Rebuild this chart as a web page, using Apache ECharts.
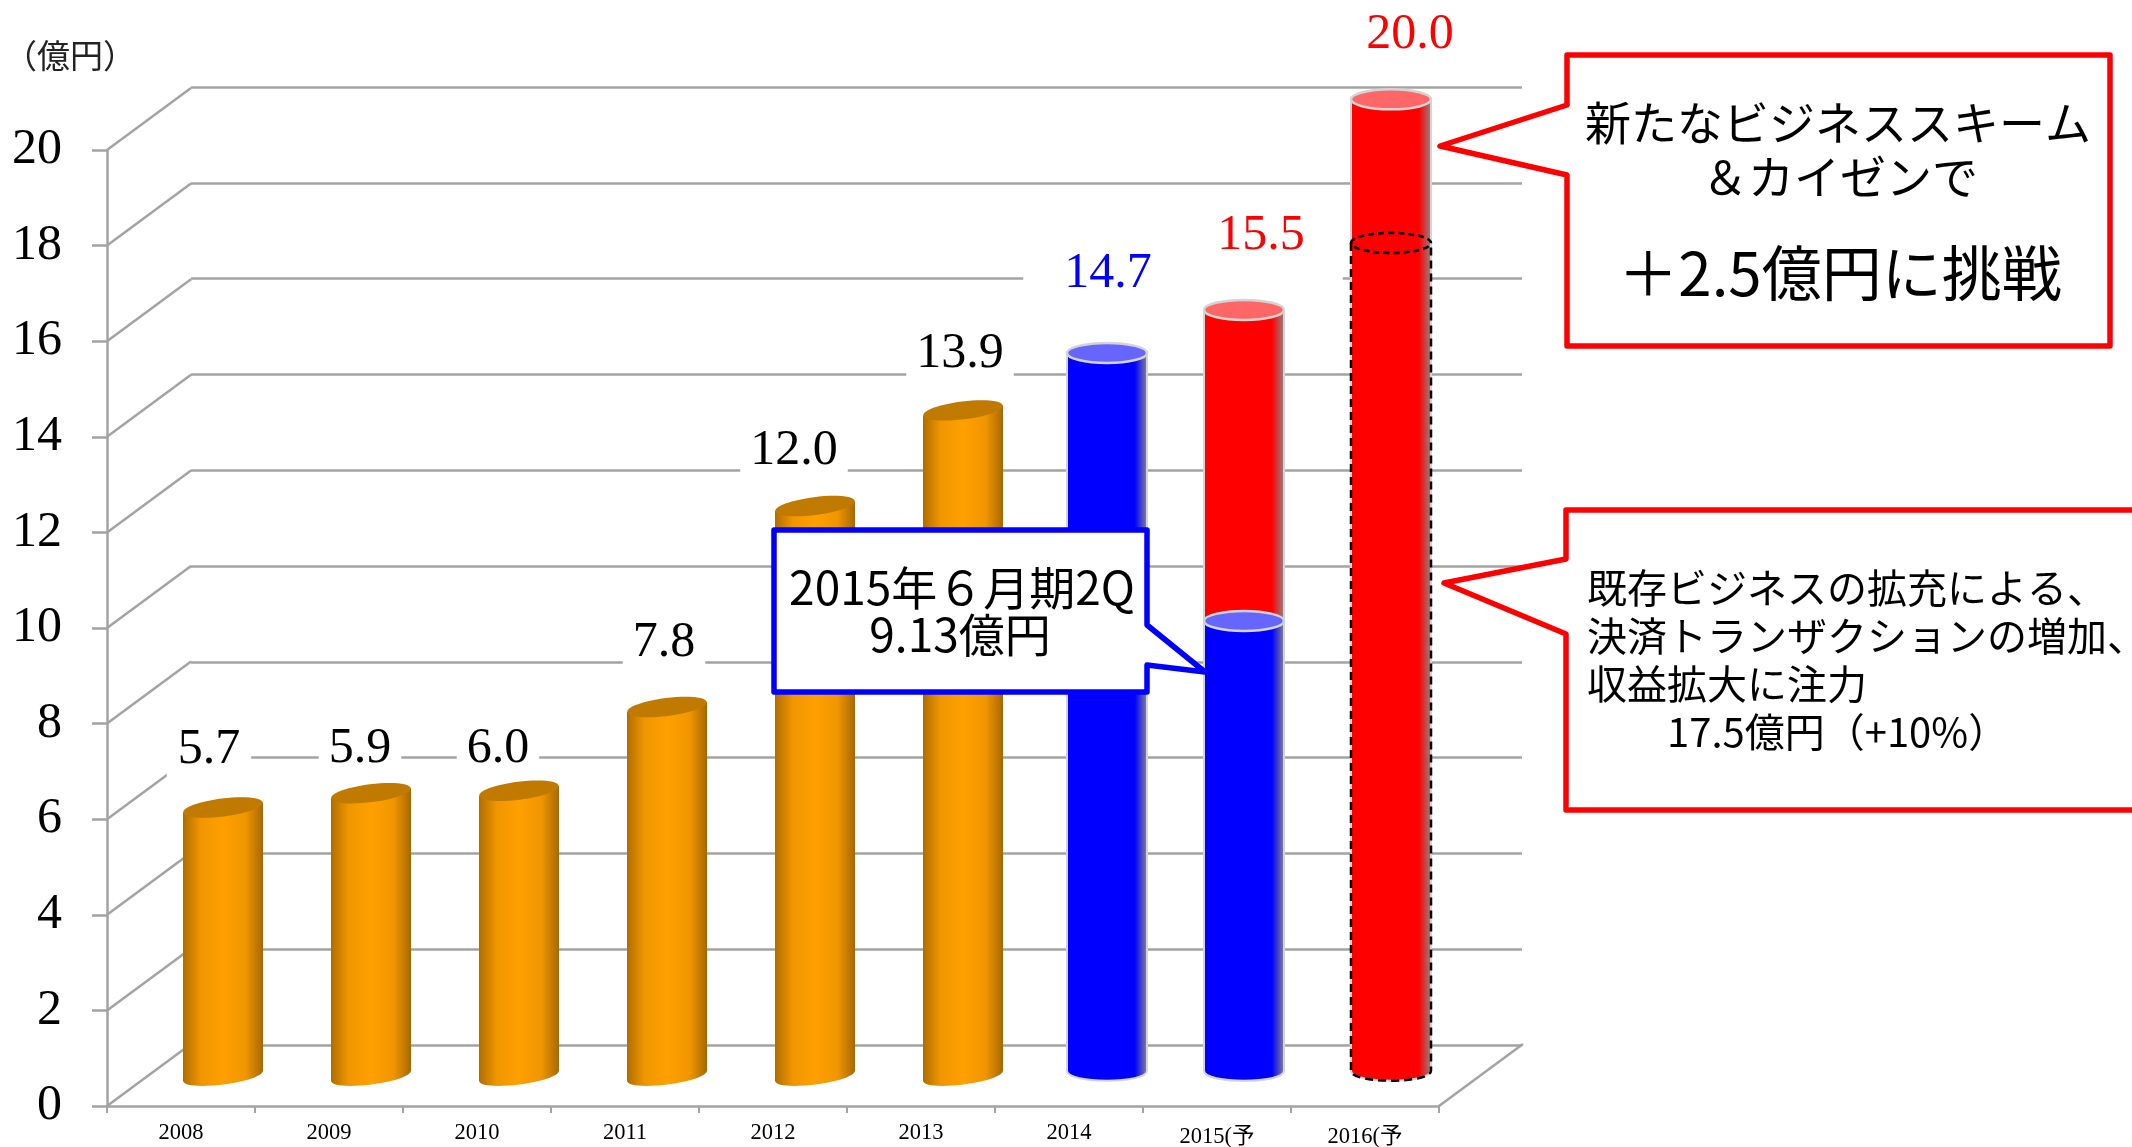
<!DOCTYPE html>
<html><head><meta charset="utf-8">
<style>html,body{margin:0;padding:0;background:#fff;overflow:hidden}#c{width:2132px;height:1147px}</style>
<script src="https://cdn.jsdelivr.net/npm/echarts@6/dist/echarts.min.js"></script>
</head><body><div id="c"></div>
<script>
const categories = ['2008','2009','2010','2011','2012','2013','2014','2015(予','2016(予'];
const valueLabels = ['5.7','5.9','6.0','7.8','12.0','13.9','14.7','15.5','20.0'];
const barHeights = [5.6,5.9,5.95,7.7,11.9,13.9,15.1,16.0,20.4];
const barBases = [0,0,0,0,0,0,0.1,0.1,0.1];
const kinds = ['past','past','past','past','past','past','actual','plan','plan'];
const halfYearActual2015 = 9.5;
const existingBusiness2016 = 17.4;
const yTicks = [0,2,4,6,8,10,12,14,16,18,20];

const SERIF = '"Liberation Serif","Noto Sans CJK JP",serif';
const SANS = '"Noto Sans CJK JP","Noto Sans",sans-serif';
const GRID_COLOR = '#a3a3a3';
const KIND_COLOR = {past:'#000000',actual:'#0000ff',plan:'#ff0000'};
const DEPTH_X = 84, DEPTH_Y = -62;
const R = 40;

function bodyGrad(kind){
  if(kind==='past') return {type:'linear',x:0,y:0,x2:1,y2:0,colorStops:[
    {offset:0,color:'#b06e00'},{offset:.22,color:'#f09600'},{offset:.5,color:'#ffa000'},
    {offset:.78,color:'#f09600'},{offset:1,color:'#a86800'}]};
  const c = kind==='actual' ? '#0000ff' : '#ff0000';
  return {type:'linear',x:0,y:0,x2:1,y2:0,colorStops:[
    {offset:0,color:c},{offset:.84,color:c},{offset:1,color:'#8c8c8c'}]};
}
function cyl(cx,top,bot,tilt,ry,kind,capFill,edge){
  const l=cx-R,r=cx+R,k=ry*1.33;
  const d=`M${l} ${top+tilt} L${l} ${bot+tilt} C${l} ${bot+tilt+k} ${r} ${bot-tilt+k} ${r} ${bot-tilt} L${r} ${top-tilt} Z`;
  const st={fill:bodyGrad(kind)};
  if(edge){st.stroke=edge;st.lineWidth=2;}
  return [
    {type:'path',shape:{pathData:d},style:st},
    {type:'ellipse',x:cx,y:top,rotation:Math.atan2(2*tilt,2*R),shape:{cx:0,cy:0,rx:R,ry:ry},
      style:{fill:capFill,stroke:edge||null,lineWidth:edge?2.5:0}}
  ];
}
const overlayShift = {6:-4,7:-15,8:-16};
const labelNudge = [[-14,-58],[-11,-44],[-21,-42],[-3,-64],[-21,-55],[-3,-57],[-3,-79],[2,-74],[3,-64]];
const labelPad = [[3,11,3,11],[3,10,3,10],[3,10,3,10],[3,10,3,10],[3,10,3,10],[3,10,3,10],[3,41,3,41],[3,38,35,38],[3,4,3,4]];

function renderWall(params,api){
  const cs=params.coordSys, v=api.value(1), y=api.coord([0,v])[1];
  const ls={stroke:GRID_COLOR,lineWidth:2.5};
  const kids=[{type:'line',shape:{x1:cs.x,y1:y,x2:cs.x+DEPTH_X,y2:y+DEPTH_Y},style:ls}];
  if(v===0) kids.push({type:'line',shape:{x1:cs.x+cs.width,y1:y,x2:cs.x+cs.width+DEPTH_X,y2:y+DEPTH_Y},style:ls});
  return {type:'group',children:kids};
}
function renderBar(params,api){
  const i=api.value(0), h=api.value(1), b=api.value(2), kind=kinds[i];
  const p=api.coord([i,h]), p0=api.coord([i,b]);
  const cx=p[0]+(overlayShift[i]||0);
  let kids;
  if(kind==='past'){
    kids=cyl(cx,p[1],p0[1],5,9,kind,'#c07a00',null);
  }else if(i===7){
    const m=api.coord([i,halfYearActual2015])[1];
    kids=cyl(cx,p[1],p0[1],0,10,'plan','#ff6666','#d4d4d4').concat(
         cyl(cx,m,p0[1],0,10,'actual','#6666ff','#d4d4d4'));
  }else if(i===8){
    const m=api.coord([i,existingBusiness2016])[1], k=13.3, by=p0[1];
    kids=cyl(cx,p[1],by,0,10,'plan','#ff6666','#d4d4d4').concat([
      {type:'path',shape:{pathData:`M${cx-R} ${m} L${cx-R} ${by} C${cx-R} ${by+k} ${cx+R} ${by+k} ${cx+R} ${by} L${cx+R} ${m}`},
        style:{fill:null,stroke:'#000',lineWidth:2.5,lineDash:[8,5]}},
      {type:'ellipse',shape:{cx:cx,cy:m,rx:R,ry:10},style:{fill:null,stroke:'#000',lineWidth:2.5,lineDash:[6,4]}}
    ]);
  }else{
    kids=cyl(cx,p[1],p0[1],0,10,kind,'#6666ff','#d4d4d4');
  }
  return {type:'group',children:kids};
}
function renderLabel(params,api){
  const i=api.value(0), p=api.coord([i,api.value(1)]), n=labelNudge[i];
  return {type:'text',x:p[0]+n[0],y:p[1]+n[1],
    style:{text:valueLabels[i],fontSize:50,fontFamily:SERIF,fill:KIND_COLOR[kinds[i]],
      align:'center',verticalAlign:'middle',backgroundColor:'#fff',padding:labelPad[i]}};
}

const hiddenAxisBits={axisLine:{show:false},axisTick:{show:false},axisLabel:{show:false}};
const grids=[
  {left:107,width:1332,top:150,height:956,outerBoundsMode:'none'},
  {left:191,width:1331,top:87,height:958,outerBoundsMode:'none'},
  {left:149,width:1332,top:118.5,height:957,outerBoundsMode:'none'}
];
function callout(points,stroke){
  return {type:'polygon',z:20,shape:{points},style:{fill:'#fff',stroke,lineWidth:5.5,lineJoin:'round'}};
}
function note(text,x,y,size,align,lineHeight){
  return {type:'text',z:21,x,y,style:{text,fontSize:size,fontFamily:SANS,fill:'#000',
    align:align||'center',verticalAlign:'middle',lineHeight:lineHeight||size}};
}

const chart=echarts.init(document.getElementById('c'),null,{renderer:'canvas',width:2132,height:1147});
chart.setOption({
  animation:false,
  backgroundColor:'#fff',
  grid:grids,
  xAxis:[
    {gridIndex:0,type:'category',data:categories,boundaryGap:true,
      axisLine:{lineStyle:{color:GRID_COLOR,width:2.5}},
      axisTick:{show:true,alignWithLabel:false,length:7,lineStyle:{color:GRID_COLOR,width:2}},
      axisLabel:{interval:0,margin:16,color:'#000',fontSize:22.5,fontFamily:SERIF,
        formatter:(v)=>v.indexOf('(')>0?'{p|'+v+'}':v,
        rich:{p:{fontSize:22.5,fontFamily:SERIF,color:'#000',padding:[4,0,0,0]}}},
      splitLine:{show:false}},
    {gridIndex:1,type:'category',data:categories,...hiddenAxisBits,splitLine:{show:false}},
    {gridIndex:2,type:'category',data:categories,...hiddenAxisBits,splitLine:{show:false}}
  ],
  yAxis:[
    {gridIndex:0,type:'value',min:0,max:20,interval:2,
      axisLine:{show:true,lineStyle:{color:GRID_COLOR,width:2.5}},
      axisTick:{show:true,length:15,lineStyle:{color:GRID_COLOR,width:2.5}},
      axisLabel:{margin:45,color:'#000',fontSize:50,fontFamily:SERIF,padding:[6,0,0,0]},
      splitLine:{show:false}},
    {gridIndex:1,type:'value',min:0,max:20,interval:2,...hiddenAxisBits,
      splitLine:{show:true,lineStyle:{color:GRID_COLOR,width:2.5}}},
    {gridIndex:2,type:'value',min:0,max:20,interval:2,...hiddenAxisBits,splitLine:{show:false}}
  ],
  series:[
    {type:'custom',name:'wall',xAxisIndex:0,yAxisIndex:0,z:1,silent:true,clip:false,
      data:yTicks.map(t=>[0,t]),renderItem:renderWall},
    {type:'custom',name:'bars',xAxisIndex:2,yAxisIndex:2,z:3,silent:true,clip:false,
      data:categories.map((c,i)=>[i,barHeights[i],barBases[i]]),renderItem:renderBar},
    {type:'custom',name:'labels',xAxisIndex:2,yAxisIndex:2,z:5,silent:true,clip:false,
      data:categories.map((c,i)=>[i,barHeights[i]]),renderItem:renderLabel}
  ],
  graphic:[
    {type:'text',z:21,x:70,y:55,style:{text:'（億円）',fontSize:33,fontFamily:SANS,fill:'#222',align:'center',verticalAlign:'middle'}},
    callout([[1567,55],[2110,55],[2110,346],[1567,346],[1567,175],[1440,146],[1567,105]],'#ff0000'),
    note('新たなビジネススキーム',1838,123,46),
    note('＆カイゼンで',1840,177,46),
    note('＋2.5億円に挑戦',1840,273,60),
    callout([[1566,510],[2145,510],[2145,810],[1566,810],[1566,634],[1444,583],[1566,559]],'#ff0000'),
    note('既存ビジネスの拡充による、\n決済トランザクションの増加、\n収益拡大に注力\n　　17.5億円（+10%）',1587,660,40,'left',48),
    callout([[774,530],[1147,530],[1147,625],[1205,672],[1147,665],[1147,692],[774,692]],'#0000ff'),
    note('2015年６月期2Q',962,588,46),
    note('9.13億円',960,635,46)
  ]
});
</script></body></html>
